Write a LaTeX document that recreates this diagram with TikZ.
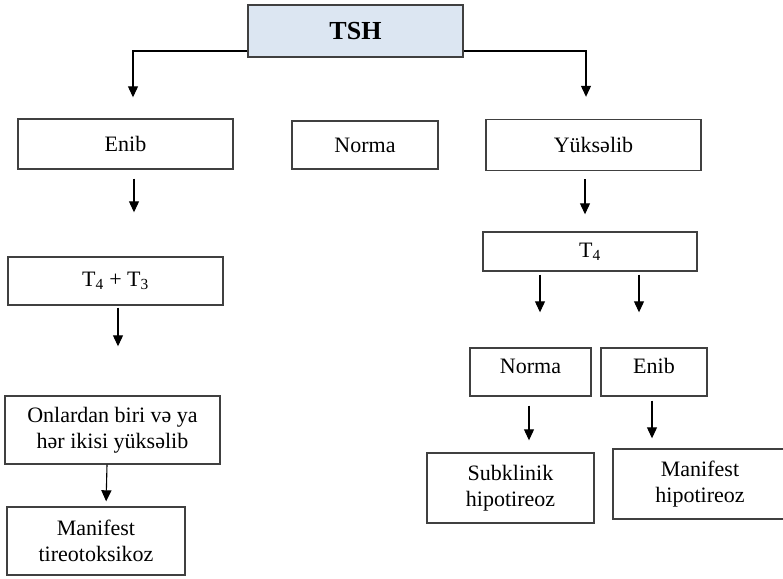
\documentclass[tikz,border=0pt]{standalone}
\usepackage{fontspec}
\setmainfont{Liberation Serif}
\usetikzlibrary{arrows.meta}

\definecolor{tshblue}{HTML}{DCE6F2}
\definecolor{boxgray}{HTML}{404040}

\begin{document}
\begin{tikzpicture}[x=1pt, y=-1pt,
  every node/.style={font=\fontsize{22}{26}\selectfont},
  box/.style={draw=boxgray, line width=1.4pt, inner sep=0pt, align=center},
  arr/.style={-{Triangle[width=10pt,length=11pt]}, line width=1.1pt, black}]

  \useasboundingbox (0,0) rectangle (783,578);

  %% Top: TSH
  \node[box, fill=tshblue, minimum width=215pt, minimum height=52pt,
        font=\fontsize{26}{30}\selectfont\bfseries] (tsh) at (355.5,31) {TSH};

  %% Second row
  \node[box, minimum width=215pt, minimum height=50pt] (enib) at (125.5,144) {Enib};
  \node[box, minimum width=146pt, minimum height=48pt] (norma) at (365,145) {Norma};
  \node[box, minimum width=215pt, minimum height=51pt] (yuks) at (593.5,145) {Yüksəlib};

  %% Left branch
  \node[box, minimum width=215pt, minimum height=48pt] (t43) at (115.5,281) {T\textsubscript{4} + T\textsubscript{3}};
  \node[box, minimum width=215pt, minimum height=68pt] (onlar) at (112.5,430) {Onlardan biri və ya\\hər ikisi yüksəlib};
  \node[box, minimum width=178pt, minimum height=68pt] (manT) at (96,541) {Manifest\\tireotoksikoz};

  %% Right branch
  \node[box, minimum width=214pt, minimum height=39pt] (t4) at (590,251.5) {T\textsubscript{4}};
  \node[box, minimum width=121pt, minimum height=48pt, text depth=12pt] (norma2) at (530.5,372) {Norma};
  \node[box, minimum width=106pt, minimum height=48pt, text depth=12pt] (enib2) at (654,372) {Enib};
  \node[box, minimum width=167pt, minimum height=70pt] (subk) at (510.5,488) {Subklinik\\hipotireoz};
  \node[box, minimum width=174pt, minimum height=70pt] (manH) at (700,484) {Manifest\\hipotireoz};

  %% Arrows
  \draw[arr, shorten >=21pt] (tsh.west |- 0,51) -| (enib.north -| 133,0);
  \draw[arr, shorten >=22pt] (tsh.east |- 0,51) -| (yuks.north -| 586,0);
  \draw[arr, shorten <=9pt, shorten >=44pt] (enib.south -| 134,0) -- (t43.north -| 134,0);
  \draw[arr, shorten <=2pt, shorten >=49pt] (t43.south -| 118,0) -- (onlar.north -| 118,0);
  \draw[arr, shorten >=5pt] (onlar.south -| 107,0) -- (manT.north -| 106,0);
  \draw[arr, shorten <=8pt, shorten >=17pt] (yuks.south -| 585,0) -- (t4.north -| 585,0);
  \draw[arr, shorten <=3pt, shorten >=35pt] (t4.south -| 540,0) -- (norma2.north -| 540,0);
  \draw[arr, shorten <=3pt, shorten >=35pt] (t4.south -| 639,0) -- (enib2.north -| 639,0);
  \draw[arr, shorten <=9pt, shorten >=12pt] (norma2.south -| 529,0) -- (subk.north -| 529,0);
  \draw[arr, shorten <=4pt, shorten >=10pt] (enib2.south -| 652,0) -- (manH.north -| 652,0);

\end{tikzpicture}
\end{document}
